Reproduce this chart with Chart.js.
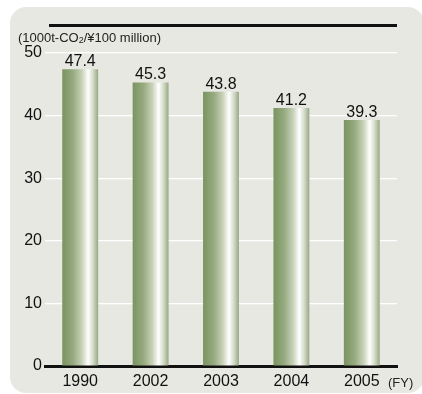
<!DOCTYPE html>
<html>
<head>
<meta charset="utf-8">
<script src="https://cdn.jsdelivr.net/npm/chart.js@4"></script>
<style>
  html, body { margin: 0; padding: 0; background: #fff; }
  #wrap { width: 422px; height: 394px; }
</style>
</head>
<body>
<div id="wrap"><canvas id="chart1" width="422" height="394"></canvas></div>
<script>
const years = ['1990', '2002', '2003', '2004', '2005'];
const intensity = [47.4, 45.3, 43.8, 41.2, 39.3];
const yTicks = [0, 10, 20, 30, 40, 50];
const unitLabel = ['(1000t-CO', '2', '/\u00a5100 million)'];
const fyLabel = '(FY)';

const FONT = '"Liberation Sans", Arial, Helvetica, sans-serif';
const BAR_PCT = 0.51;

// gradient across each bar, built from the scale so it works on first draw
function barFill(ctx) {
  const chart = ctx.chart;
  const xs = chart.scales.x;
  if (!xs || !chart.chartArea) return '#9aae86';
  const cx = xs.getPixelForValue(ctx.dataIndex);
  const half = (xs.width / years.length) * BAR_PCT / 2;
  const g = chart.ctx.createLinearGradient(cx - half, 0, cx + half, 0);
  g.addColorStop(0, '#7a9460');
  g.addColorStop(0.3, '#96aa80');
  g.addColorStop(0.55, '#c8d2b9');
  g.addColorStop(0.72, '#ffffff');
  g.addColorStop(0.86, '#d3dbc8');
  g.addColorStop(1, '#97a784');
  return g;
}

const decor = {
  id: 'decor',
  beforeDraw(chart) {
    const c = chart.ctx;
    c.save();
    c.fillStyle = '#e8e8e3';
    c.beginPath();
    c.roundRect(10, 7, 414, 386, 16);
    c.fill();
    c.restore();
  },
  afterDraw(chart) {
    const c = chart.ctx;
    const a = chart.chartArea;
    c.save();
    // top rule
    c.strokeStyle = '#111';
    c.lineWidth = 3;
    c.beginPath();
    c.moveTo(a.left + 4, 25.5);
    c.lineTo(a.right, 25.5);
    c.stroke();
    // unit label with subscript
    c.fillStyle = '#222';
    c.textBaseline = 'alphabetic';
    c.textAlign = 'left';
    let x = 18;
    c.font = '13px ' + FONT;
    c.fillText(unitLabel[0], x, 42);
    x += c.measureText(unitLabel[0]).width;
    c.font = '9px ' + FONT;
    c.fillText(unitLabel[1], x, 43);
    x += c.measureText(unitLabel[1]).width;
    c.font = '13px ' + FONT;
    c.fillText(unitLabel[2], x, 42);
    // (FY)
    c.font = '13px ' + FONT;
    c.fillText(fyLabel, 388, 387);
    c.restore();
  },
  afterDatasetsDraw(chart) {
    const c = chart.ctx;
    const meta = chart.getDatasetMeta(0);
    c.save();
    c.fillStyle = '#111';
    c.font = '16px ' + FONT;
    c.textAlign = 'center';
    c.textBaseline = 'alphabetic';
    meta.data.forEach((bar, i) => {
      c.fillText(intensity[i].toFixed(1), bar.x, bar.y - 3);
    });
    c.restore();
  }
};

new Chart(document.getElementById('chart1'), {
  type: 'bar',
  data: {
    labels: years,
    datasets: [{
      data: intensity,
      backgroundColor: barFill,
      borderWidth: 0,
      barPercentage: BAR_PCT,
      categoryPercentage: 1
    }]
  },
  options: {
    responsive: false,
    animation: false,
    events: [],
    layout: { padding: { left: 0, top: 53, right: 25, bottom: 0 } },
    plugins: {
      legend: { display: false },
      title: { display: false },
      tooltip: { enabled: false }
    },
    scales: {
      x: {
        afterFit: s => { s.height = 28; },
        grid: { display: false, drawTicks: false },
        border: { display: true, color: '#111', width: 3 },
        ticks: { color: '#111', font: { family: FONT, size: 16 }, padding: 6 }
      },
      y: {
        min: 0,
        max: 50,
        afterFit: s => { s.width = 45; },
        afterBuildTicks: s => { s.ticks = yTicks.map(v => ({ value: v })); },
        grid: {
          drawTicks: false,
          color: ctx => ctx.tick && ctx.tick.value === 0 ? 'rgba(0,0,0,0)' : '#ffffff',
          lineWidth: 1.2
        },
        border: { display: false },
        ticks: { color: '#111', font: { family: FONT, size: 16 }, padding: 3 }
      }
    }
  },
  plugins: [decor]
});
</script>
</body>
</html>
